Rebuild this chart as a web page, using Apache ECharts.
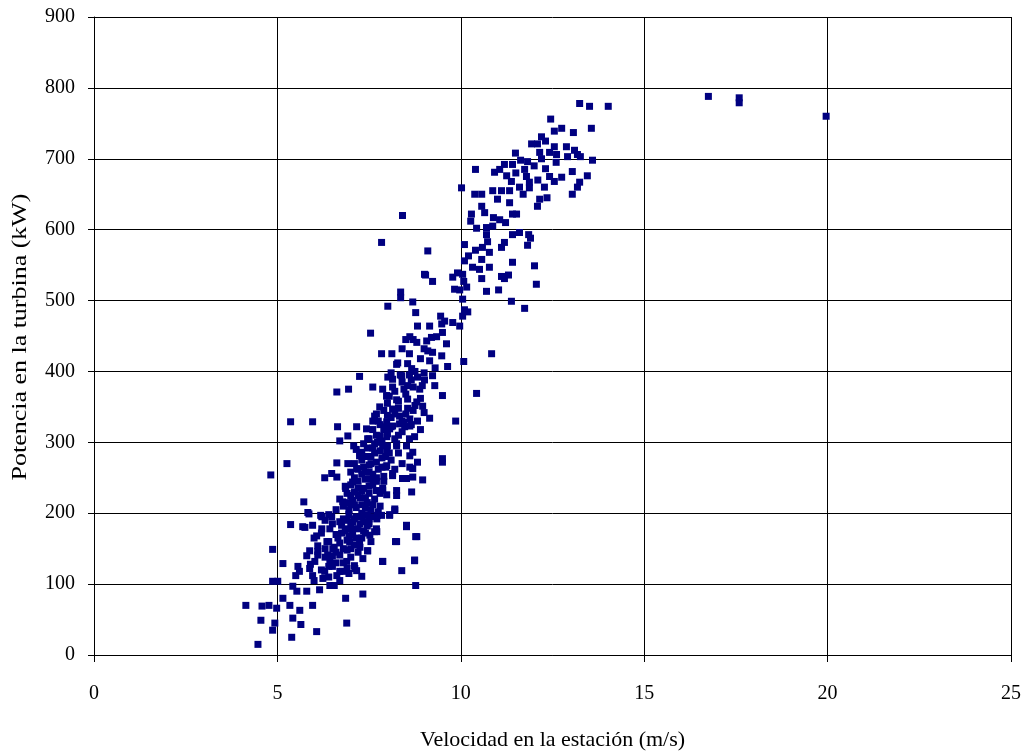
<!DOCTYPE html>
<html>
<head>
<meta charset="utf-8">
<script src="https://cdn.jsdelivr.net/npm/echarts@6/dist/echarts.min.js"></script>
<style>
  html, body { margin: 0; padding: 0; background: #fff; }
  #chart { width: 1024px; height: 756px; }
</style>
</head>
<body>
<div id="chart"></div>
<script>
// Wind speed at the station (m/s) vs. turbine power (kW), grouped by zone of the cloud.
const lowWinds = [
  [5.86,199],[6.18,197],[6.40,198],[5.36,184],[5.75,180],[4.87,149],[5.15,129],[5.56,125],[5.88,147],[5.50,112],
  [4.87,104],[5.01,104],[4.14,70],[4.58,69],[4.77,70],[4.98,66],[4.55,49],[4.93,45],[4.87,35],[5.39,25],
  [4.47,15],[5.64,43],[6.07,33],[5.42,52],[5.15,80],[5.34,70],[5.61,63],[5.53,90],[5.80,90],[5.96,70],
  [6.15,92],[6.43,98],[6.86,80],[6.89,45],[7.33,86],[5.42,97],[5.96,112],[6.24,108],[6.62,112],[6.29,118],
  [7.16,119],[7.30,111],[6.78,118],[5.88,122],[6.02,132],[6.10,141],[6.37,141],[6.70,141],[6.89,132],[7.33,136],
  [7.46,147],[6.35,160],[6.51,150],[6.07,168],[6.21,178],[6.43,178],[6.70,188],[6.89,178],[7.05,188],[7.43,197],
  [7.71,192],[7.71,174],[7.52,169],[7.24,160],[6.97,160],[6.43,132],[6.10,154]
];

const lowRightEdge = [
  [8.82,272],[9.50,272],[8.61,265],[7.98,267],[8.14,253],[8.52,249],[8.69,251],[8.96,247],[7.87,232],[8.25,232],
  [8.66,230],[7.98,226],[8.20,206],[8.06,198],[7.84,197],[8.52,181],[8.77,167],[8.22,160],[7.87,132],[8.74,134],
  [8.39,119],[8.77,98]
];

const midWinds = [
  [6.62,371],[6.94,375],[5.36,329],[5.96,329],[6.64,322],[7.16,322],[6.92,309],[6.70,302],[5.26,270],[4.82,254],
  [6.62,271],[6.29,250],[6.48,256],[6.62,251],[6.86,235],[5.72,216],[7.08,295],[6.92,270],[7.24,281],[7.43,319],
  [7.60,378],[7.98,365],[7.65,337],[7.73,300],[5.83,201],[5.69,181],[5.96,183],[6.21,195],[6.48,195],[6.78,216],
  [7.05,244],[7.16,263],[7.30,286],[7.46,305],[7.79,309],[8.06,319],[8.33,326],[8.61,323],[7.60,330],[7.98,288],
  [8.25,298],[8.61,281],[8.69,263],[8.41,249],[8.14,256],[7.87,235],[8.25,225],[8.06,197],[8.20,204],[7.73,197],
  [7.65,174],[8.52,183],[8.80,167],[8.25,160],[7.46,147],[7.87,132],[7.11,122],[8.74,133]
];

const coreWinds = [
  [5.6,118],[5.9,128],[6.0,105],[6.2,120],[6.3,138],[6.5,125],[6.6,145],[6.7,105],[6.8,130],[6.9,148],
  [7.0,138],[7.1,126],[6.4,110],[6.1,146],[5.8,140],[6.55,98],[6.95,115],[7.2,145],
  [6.0,165],[6.2,172],[6.4,160],[6.5,185],[6.6,170],[6.7,158],[6.8,192],[6.85,175],[6.9,162],[7.0,185],
  [7.05,170],[7.1,155],[7.15,195],[7.2,178],[7.3,165],[7.35,188],[7.4,172],[7.5,185],[7.55,160],[7.6,195],
  [6.75,183],[6.95,198],[7.25,152],[7.45,198],[6.3,190],[7.7,178],[6.55,152],
  [6.6,205],[6.7,220],[6.8,210],[6.9,228],[6.95,205],[7.0,240],[7.05,218],[7.1,230],[7.15,208],[7.2,245],
  [7.25,222],[7.3,212],[7.35,235],[7.4,248],[7.45,215],[7.5,228],[7.55,205],[7.6,240],[7.65,220],[7.7,232],
  [7.8,210],[7.9,245],[7.0,212],[7.3,200],[7.55,248],[6.85,238],[7.75,202],
  [7.0,258],[7.1,270],[7.2,262],[7.25,285],[7.3,275],[7.4,258],[7.45,292],[7.5,268],[7.55,280],[7.6,255],
  [7.65,298],[7.7,272],[7.75,262],[7.8,288],[7.85,278],[7.95,265],[8.0,295],[8.1,275],[8.2,262],[8.3,285],
  [7.35,298],[7.9,252],[8.4,270],[7.15,290],
  [7.5,305],[7.6,318],[7.7,340],[7.8,325],[7.9,345],[8.0,312],[8.1,335],[8.2,305],[8.3,348],[8.4,315],
  [8.5,340],[8.6,305],[8.7,345],[8.0,338],[7.85,302],[8.45,328],[8.9,318],[9.0,342],
  [8.0,355],[8.2,372],[8.3,358],[8.4,385],[8.5,368],[8.6,395],[8.7,378],[8.9,362],[9.0,398],[8.1,398],[8.75,352],
  [8.4,432],[8.6,425],[8.7,445],[8.9,418],[9.0,432],[9.2,448],[8.5,445],[9.3,405]
];

// overlapping marks in the densest part of the ribbon
const denseCore = [
  [6.65,165],[6.75,172],[6.95,168],[7.05,178],[7.15,165],[7.25,185],[7.35,175],[7.45,182],[6.9,190],[7.1,192],
  [7.3,195],[7.5,192],[6.9,215],[7.1,212],[7.2,225],[7.3,232],[7.4,222],[7.5,238],[7.6,212],[7.7,245],
  [7.0,225],[7.2,235],[7.4,208],[7.8,228],[7.1,250],[7.3,255],[7.5,258],[7.7,250],[7.35,265],[7.55,270],
  [7.65,285],[7.85,265],[7.95,280],[7.4,280],[7.6,292],[8.05,285],[7.7,310],[7.9,318],[8.1,322],[8.3,310],
  [7.75,330],[7.95,322],[8.2,340],[8.4,330],[8.55,348],[8.65,325],[8.05,365],[8.25,360],[8.45,375],[8.35,395],
  [8.65,388],[8.55,380],[8.75,400],[8.95,380],[6.3,150],[6.5,140],[6.8,150],[7.0,150],[6.6,130],[6.9,122],
  [6.4,125],[6.7,118]
];

const upperMidWinds = [
  [8.82,464],[9.15,464],[9.48,467],[9.78,469],[9.97,464],[8.61,449],[8.80,441],[9.07,443],[9.34,449],[9.61,439],
  [9.10,429],[9.23,427],[9.48,422],[9.15,415],[7.84,425],[8.12,425],[8.28,412],[8.55,411],[8.66,404],[9.64,407],
  [10.08,414],[10.43,369],[8.01,392],[8.14,389],[8.39,394],[8.82,392],[9.01,388],[9.23,394],[7.87,375],[8.14,378],
  [8.88,375],[9.29,380],[9.50,366],[8.55,361],[8.80,357],[8.96,351],[7.98,366],[7.79,350],[8.14,347],[8.33,337],
  [8.61,333],[8.82,330],[9.15,334],[9.86,330],[7.98,329],[8.14,323],[8.47,322],[8.74,308],[7.98,308],[8.25,295],
  [8.52,295],[7.87,295],[8.69,286],[9.50,277],
  [9.10,570],[9.01,537],[9.23,527],[8.36,512],[8.36,504],[8.69,498],[8.01,492],[8.77,483],[9.45,478],[9.56,471],
  [7.84,582],[8.41,620],[9.04,536],[7.54,454],[8.25,410],[7.24,393],[9.50,455],[10.84,425]
];

const highWinds = [
  [10.57,633],[10.65,624],[10.29,622],[10.27,612],[10.89,617],[11.06,614],[11.22,610],[11.41,622],[11.52,622],[11.33,638],
  [11.00,643],[12.09,633],[12.15,643],[10.43,602],[10.70,603],[10.87,605],[10.70,593],[11.41,593],[11.60,596],[11.85,593],
  [11.90,588],[11.82,578],[10.73,583],[11.19,582],[11.11,575],[10.10,579],[10.59,575],[10.40,571],[10.78,568],[11.41,554],
  [12.01,549],[10.21,563],[10.10,556],[10.57,558],[10.32,547],[10.51,544],[10.78,547],[9.91,539],[10.05,537],[9.78,533],
  [10.08,527],[10.57,531],[11.11,534],[11.30,536],[11.19,531],[12.06,523],[10.16,519],[9.83,516],[9.97,515],[10.70,513],
  [11.03,515],[10.05,502],[11.38,499],[11.74,489],[10.10,487],[10.19,484],[10.05,478]
];

const topWinds = [
  [13.24,778],[13.51,774],[14.02,774],[12.45,756],[13.56,743],[12.75,743],[12.55,739],[13.07,737],[12.20,731],[11.93,721],
  [12.09,721],[12.31,725],[12.55,717],[12.88,717],[13.10,712],[13.18,706],[12.15,709],[12.42,709],[12.61,706],[11.49,708],
  [12.91,703],[13.26,703],[11.63,698],[11.82,696],[13.59,698],[11.19,692],[11.41,692],[10.40,685],[11.06,685],[10.92,681],
  [11.74,685],[12.31,686],[13.04,682],[11.25,676],[11.79,675],[12.42,675],[12.75,674],[13.45,676],[11.38,668],[11.87,667],
  [12.55,668],[13.24,667],[10.02,659],[11.60,660],[11.87,659],[12.28,660],[10.87,655],[11.11,655],[11.33,655],[10.38,650],
  [10.57,650],[13.18,660],[13.04,650],[12.0,690],[12.2,700],[12.6,695],[11.5,680],[12.1,670],[11.7,650],[12.35,645]
];

const stormWinds = [[16.75,788],[17.59,786],[17.59,779],[19.96,760]];

const xTicks = { min: 0, max: 25, step: 5 };
const yTicks = { min: 0, max: 900, step: 100 };

const yTitle = 'Potencia en la turbina (kW)';
const xTitle = 'Velocidad en la estación (m/s)';

const allPoints = [].concat(lowWinds, lowRightEdge, midWinds, coreWinds, denseCore, upperMidWinds, highWinds, topWinds, stormWinds);

const serif = 'Liberation Serif';
const tickTxt = { fontFamily: serif, fontSize: 20, color: '#000' };

const chart = echarts.init(document.getElementById('chart'), null, { renderer: 'canvas' });
chart.setOption({
  animation: false,
  backgroundColor: '#fff',
  grid: { left: 94, right: 13, top: 17, bottom: 99 },
  xAxis: {
    type: 'value',
    min: xTicks.min, max: xTicks.max, interval: xTicks.step,
    name: xTitle,
    nameLocation: 'middle', nameGap: 74,
    nameTextStyle: { fontFamily: serif, fontSize: 22, color: '#000' },
    axisLine: { show: true, lineStyle: { color: '#000', width: 1 } },
    axisTick: { show: true, length: 7, lineStyle: { color: '#000' } },
    axisLabel: Object.assign({ margin: 29 }, tickTxt),
    splitLine: { show: true, lineStyle: { color: '#000', width: 1 } }
  },
  yAxis: {
    type: 'value',
    min: yTicks.min, max: yTicks.max, interval: yTicks.step,
    axisLine: { show: true, lineStyle: { color: '#000', width: 1 } },
    axisTick: { show: true, length: 6, lineStyle: { color: '#000' } },
    axisLabel: Object.assign({ margin: 19 }, tickTxt),
    splitLine: { show: true, lineStyle: { color: '#000', width: 1 } }
  },
  graphic: [{
    type: 'text',
    x: 20, y: 337,
    rotation: Math.PI / 2,
    scaleX: 1.18,
    style: {
      text: yTitle,
      font: '22px "Liberation Serif"',
      fill: '#000',
      align: 'center',
      verticalAlign: 'middle'
    }
  }],
  series: [{
    type: 'scatter',
    symbol: 'rect',
    symbolSize: 7,
    itemStyle: { color: '#000080', opacity: 1 },
    data: allPoints
  }]
});
</script>
</body>
</html>
